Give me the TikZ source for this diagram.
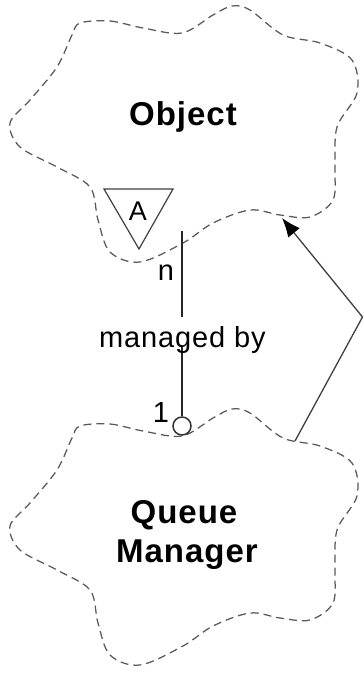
\documentclass[tikz,border=0pt]{standalone}
\usepackage{fontspec}
\setmainfont{Liberation Sans}
\newfontfamily\titlefont[LetterSpace=3]{Liberation Sans}
\newfontfamily\lblfont[LetterSpace=3]{Liberation Sans}
\usetikzlibrary{arrows.meta}
\tikzset{
  cloudline/.style={draw=black!65, line width=1.25pt, dash pattern=on 8pt off 5pt},
  title/.style={font=\titlefont\bfseries\fontsize{33}{39}\selectfont, inner sep=0pt, anchor=base},
  lbl/.style={font=\lblfont\fontsize{29}{34}\selectfont, inner sep=0pt, anchor=base},
  assoc/.style={draw=black!75, line width=1.3pt},
  link/.style={draw=black!85, line width=1.8pt}
}
\begin{document}
\begin{tikzpicture}[x=1pt,y=-1pt]
\useasboundingbox[fill=white] (0,0) rectangle (364,675);
% Object cloud
\draw[cloudline] plot[smooth cycle, tension=0.55] coordinates {
  (80,23) (110,21) (143,28) (182,33) (213,15) (232,6) (250,10) (283,35)
  (320,43) (352,60) (357,93) (337,127) (335,167) (333,200) (310,217)
  (280,215) (250,210) (213,223) (183,243) (140,262) (110,252) (98,220)
  (90,187) (57,167) (20,147) (10,123) (30,100) (57,67) (72,35)};
% Queue Manager cloud
\begin{scope}[shift={(0,403)}]
\draw[cloudline] plot[smooth cycle, tension=0.55] coordinates {
  (80,23) (110,21) (143,28) (182,33) (213,15) (232,6) (250,10) (283,35)
  (320,43) (352,60) (357,93) (337,127) (335,167) (333,200) (310,217)
  (280,215) (250,210) (213,223) (183,243) (140,262) (110,252) (98,220)
  (90,187) (57,167) (20,147) (10,123) (30,100) (57,67) (72,35)};
\end{scope}
\node[title] (obj) at (183,125) {Object};
\node[title] (qm1) at (184,523) {Queue};
\node[title] (qm2) at (187,562) {Manager};
% abstract marker
\coordinate (triL) at (104,189);
\coordinate (triR) at (173,189);
\coordinate (triB) at (139,249);
\draw[assoc, line width=1.2pt, fill=white] (triL) -- (triR) -- (triB) -- cycle;
\node[lbl, font=\fontsize{27}{30}\selectfont] (abs) at (138,220) {A};
% managed by association
\coordinate (objlow) at (182,231);
\node[draw=black!80, line width=1.5pt, circle, minimum size=18pt, inner sep=0pt, fill=white] (circ) at (182,426) {};
\draw[link] (objlow) -- (circ.north);
\node[lbl, fill=white, inner xsep=1pt, text height=30pt, text depth=0pt] (mb) at (182.5,347) {managed by};
\node[lbl] (mn) at (166,280) {n};
\node[lbl] (m1) at (161,422) {1};
% inheritance arrow
\coordinate (qmtop) at (295,441);
\coordinate (bend) at (362.5,317);
\coordinate (objhit) at (282,218);
\draw[assoc, line join=miter, -{Latex[length=19pt,width=15pt,color=black]}] (qmtop) -- (bend) -- (objhit);
\end{tikzpicture}
\end{document}
